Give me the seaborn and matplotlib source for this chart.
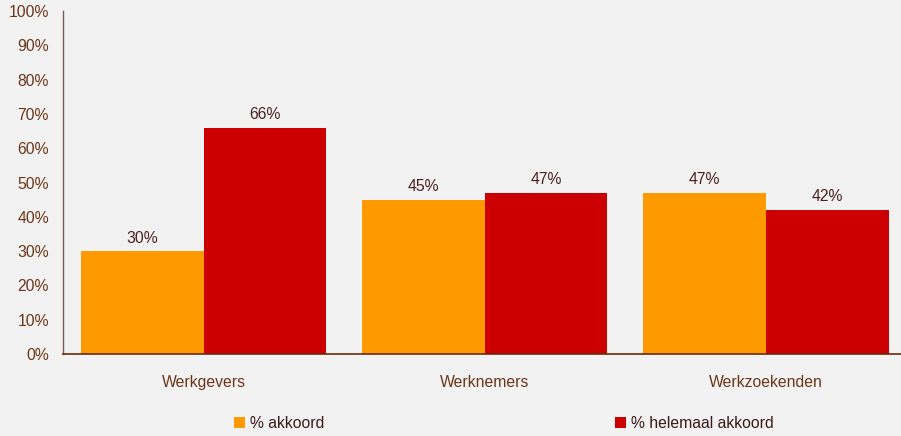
import matplotlib
matplotlib.use("Agg")
import matplotlib.pyplot as plt
import seaborn as sns
import pandas as pd
from matplotlib.patches import Patch

categories = ["Werkgevers", "Werknemers", "Werkzoekenden"]
series_names = ["% akkoord", "% helemaal akkoord"]
akkoord = [30, 45, 47]
helemaal = [66, 47, 42]
yticks = [0, 10, 20, 30, 40, 50, 60, 70, 80, 90, 100]
colors = ["#FF9900", "#CC0000"]

df = pd.DataFrame({
    "cat": categories * 2,
    "series": [series_names[0]] * 3 + [series_names[1]] * 3,
    "val": akkoord + helemaal,
})

sns.set_theme(style="white")
plt.rcParams["font.family"] = ["Liberation Sans", "DejaVu Sans"]

fs = 11.3
bg = "#F2F2F2"
fig = plt.figure(figsize=(9.01, 4.36), dpi=100, facecolor=bg)
ax = fig.add_axes([63 / 901, 1 - 354 / 436, 1 - 63 / 901, (354 - 11) / 436])
ax.set_facecolor(bg)

sns.barplot(data=df, x="cat", y="val", hue="series", palette=colors,
            width=0.872, saturation=1, ax=ax, legend=False, edgecolor="none")

for cont in ax.containers:
    ax.bar_label(cont, labels=[f"{v:.0f}%" for v in cont.datavalues],
                 padding=4, fontsize=fs, color="#4a2020")

ax.set_ylim(0, 100)
ax.set_xlim(-0.5, 2.48)
ax.set_yticks(yticks)
ax.set_yticklabels([f"{v}%" for v in yticks], fontsize=fs, color="#6b3518")
ax.tick_params(axis="x", labelsize=fs, colors="#6b3518", length=0, pad=15)
ax.tick_params(axis="y", direction="in", length=5, width=1, color="#5a2a2a", pad=10)
for lab in ax.get_xticklabels():
    lab.set_color("#6b3518")
ax.set_xlabel("")
ax.set_ylabel("")
for s in ["top", "right"]:
    ax.spines[s].set_visible(False)
ax.spines["left"].set_color("#7a5a5a")
ax.spines["bottom"].set_color("#6b2a0a")
ax.spines["left"].set_linewidth(1)
ax.spines["bottom"].set_linewidth(1.2)

handles = [Patch(facecolor=colors[0], edgecolor="none"), Patch(facecolor=colors[1], edgecolor="none")]
fig.legend(handles, series_names, loc="center", bbox_to_anchor=(0.559, 1 - 423 / 436),
           ncol=2, frameon=False, fontsize=fs, handlelength=0.7, handleheight=0.7,
           handletextpad=0.3, columnspacing=18.55, labelcolor="#3a1a1a")

fig.savefig("out.png", dpi=100, facecolor=bg)
